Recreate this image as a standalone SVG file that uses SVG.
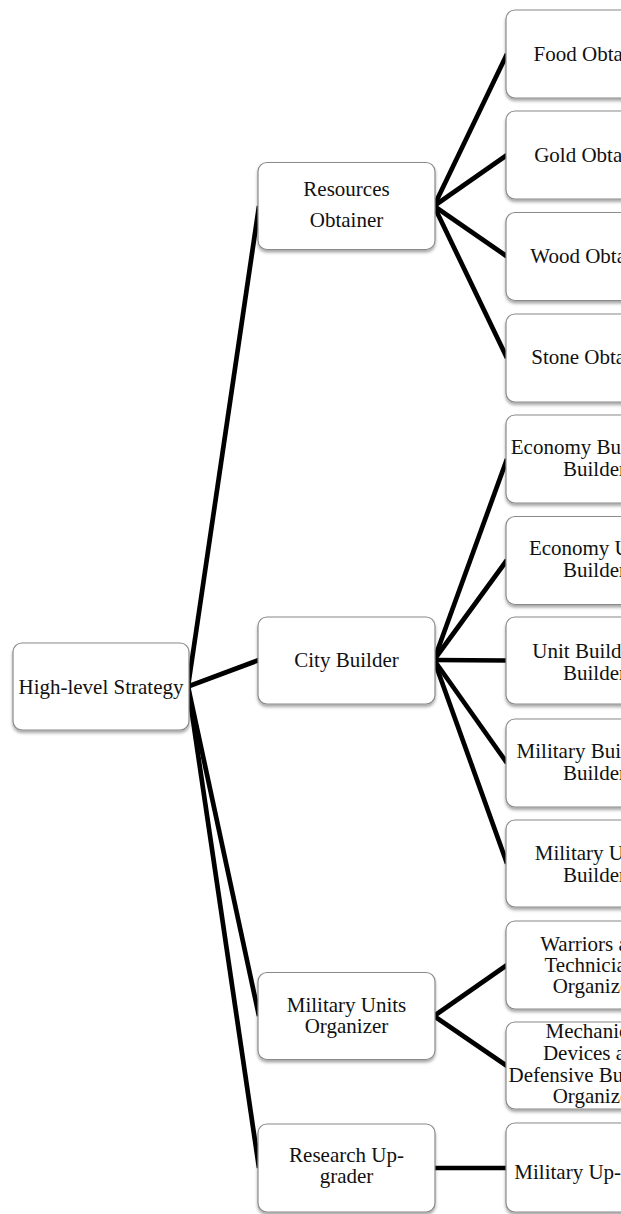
<svg xmlns="http://www.w3.org/2000/svg" width="621" height="1214" viewBox="0 0 621 1214">
<style>
.box{fill:#ffffff;stroke:#8a8a8a;stroke-width:1.2;filter:url(#sh)}
.t{font-family:"Liberation Serif","Times New Roman",serif;font-size:21px;fill:#111;text-anchor:middle}
.c{stroke:#000;stroke-width:4.7;fill:none;stroke-linecap:butt}
</style>
<defs>
<filter id="sh" x="-10%" y="-10%" width="120%" height="130%">
<feDropShadow dx="0" dy="2.5" stdDeviation="1.8" flood-color="#000" flood-opacity="0.35"/>
</filter>
</defs>
<rect width="621" height="1214" fill="#fff"/>
<g id="connectors">
<line class="c" x1="188" y1="686.5" x2="259" y2="206"/>
<line class="c" x1="188" y1="686.5" x2="259" y2="660"/>
<line class="c" x1="188" y1="686.5" x2="259" y2="1016"/>
<line class="c" x1="188" y1="686.5" x2="259" y2="1168"/>
<line class="c" x1="434" y1="206" x2="507" y2="54"/>
<line class="c" x1="434" y1="206" x2="507" y2="155"/>
<line class="c" x1="434" y1="206" x2="507" y2="256.5"/>
<line class="c" x1="434" y1="206" x2="507" y2="358"/>
<line class="c" x1="434" y1="660" x2="507" y2="459"/>
<line class="c" x1="434" y1="660" x2="507" y2="560"/>
<line class="c" x1="434" y1="660" x2="507" y2="660.5"/>
<line class="c" x1="434" y1="660" x2="507" y2="763"/>
<line class="c" x1="434" y1="660" x2="507" y2="863.5"/>
<line class="c" x1="434" y1="1016" x2="507" y2="965"/>
<line class="c" x1="434" y1="1016" x2="507" y2="1066"/>
<line class="c" x1="434" y1="1168" x2="507" y2="1168"/>
</g>
<g id="root">
<rect class="box" x="13" y="643" width="176" height="87" rx="9"/>
<text class="t" x="101" y="694">High-level Strategy</text>
</g>
<g id="resources">
<rect class="box" x="258" y="162.5" width="177" height="87" rx="9"/>
<text class="t" x="346.5" y="196">Resources</text>
<text class="t" x="346.5" y="227">Obtainer</text>
</g>
<g id="city">
<rect class="box" x="258" y="617" width="177" height="87" rx="9"/>
<text class="t" x="346.5" y="667">City Builder</text>
</g>
<g id="military-org">
<rect class="box" x="258" y="972.5" width="177" height="87" rx="9"/>
<text class="t" x="346.5" y="1012">Military Units</text>
<text class="t" x="346.5" y="1033">Organizer</text>
</g>
<g id="research">
<rect class="box" x="258" y="1124" width="177" height="88" rx="9"/>
<text class="t" x="346.5" y="1162">Research Up-</text>
<text class="t" x="346.5" y="1183">grader</text>
</g>
<g id="food">
<rect class="box" x="506" y="10" width="177" height="88" rx="9"/>
<text class="t" x="594.5" y="61">Food Obtainer</text>
</g>
<g id="gold">
<rect class="box" x="506" y="111" width="177" height="88" rx="9"/>
<text class="t" x="594.5" y="162">Gold Obtainer</text>
</g>
<g id="wood">
<rect class="box" x="506" y="212.5" width="177" height="88" rx="9"/>
<text class="t" x="594.5" y="263">Wood Obtainer</text>
</g>
<g id="stone">
<rect class="box" x="506" y="314" width="177" height="88" rx="9"/>
<text class="t" x="594.5" y="364">Stone Obtainer</text>
</g>
<g id="econ-buildings">
<rect class="box" x="506" y="415" width="177" height="88" rx="9"/>
<text class="t" x="594.5" y="454">Economy Buildings</text>
<text class="t" x="594.5" y="476">Builder</text>
</g>
<g id="econ-units">
<rect class="box" x="506" y="516.5" width="177" height="88" rx="9"/>
<text class="t" x="594.5" y="555">Economy Units</text>
<text class="t" x="594.5" y="577">Builder</text>
</g>
<g id="unit-buildings">
<rect class="box" x="506" y="617" width="177" height="87" rx="9"/>
<text class="t" x="594.5" y="658">Unit Buildings</text>
<text class="t" x="594.5" y="680">Builder</text>
</g>
<g id="mil-buildings">
<rect class="box" x="506" y="719" width="177" height="88" rx="9"/>
<text class="t" x="594.5" y="758">Military Buildings</text>
<text class="t" x="594.5" y="780">Builder</text>
</g>
<g id="mil-units">
<rect class="box" x="506" y="820" width="177" height="87" rx="9"/>
<text class="t" x="594.5" y="860">Military Units</text>
<text class="t" x="594.5" y="882">Builder</text>
</g>
<g id="warriors">
<rect class="box" x="506" y="921" width="177" height="88" rx="9"/>
<text class="t" x="594.5" y="951">Warriors and</text>
<text class="t" x="594.5" y="972">Technicians</text>
<text class="t" x="594.5" y="993">Organizer</text>
</g>
<g id="mechanical">
<rect class="box" x="506" y="1022" width="177" height="87" rx="9"/>
<text class="t" x="594.5" y="1038">Mechanical</text>
<text class="t" x="594.5" y="1060">Devices and</text>
<text class="t" x="594.5" y="1082">Defensive Buildings</text>
<text class="t" x="594.5" y="1103">Organizer</text>
</g>
<g id="mil-upgrader">
<rect class="box" x="506" y="1123" width="177" height="89" rx="9"/>
<text class="t" x="594.5" y="1179">Military Up-grader</text>
</g>
</svg>
